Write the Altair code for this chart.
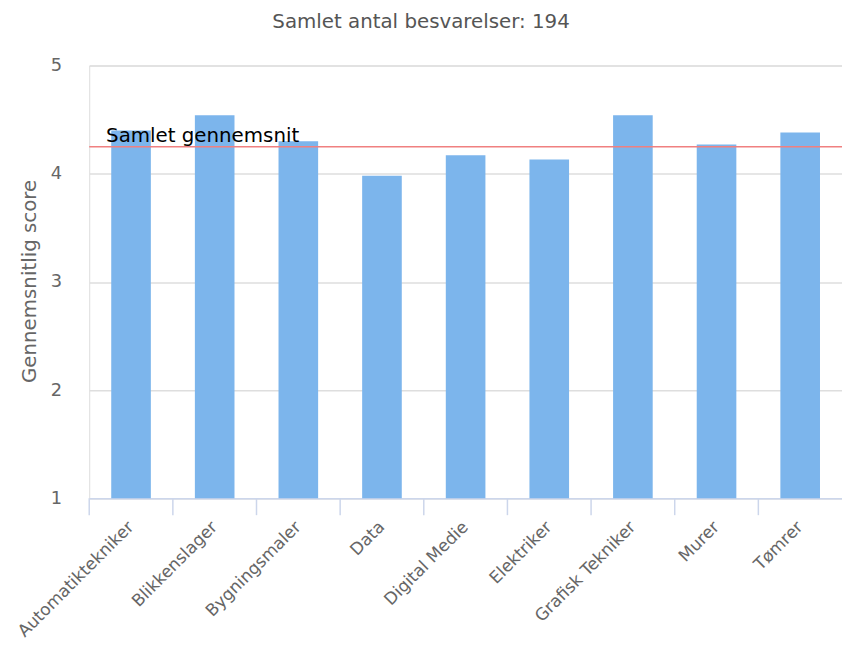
import altair as alt
import pandas as pd

categories = ["Automatiktekniker", "Blikkenslager", "Bygningsmaler", "Data",
              "Digital Medie", "Elektriker", "Grafisk Tekniker", "Murer", "Tømrer"]
scores = [4.40, 4.54, 4.30, 3.98, 4.17, 4.13, 4.54, 4.27, 4.38]
overall_avg = [4.25]
overall_label = ["Samlet gennemsnit"]
y_ticks = [1, 2, 3, 4, 5]
title_text = "Samlet antal besvarelser: 194"
y_title = "Gennemsnitlig score"

FONT = "DejaVu Sans"

df = pd.DataFrame({"cat": categories, "score": scores})
ref = pd.DataFrame({"v": overall_avg, "label": overall_label})

x_enc = alt.X(
    "cat:N",
    sort=categories,
    scale=alt.Scale(paddingInner=0, paddingOuter=0),
    axis=alt.Axis(
        title=None,
        labelAngle=-45,
        labelAlign="right",
        labelBaseline="middle",
        labelPadding=26,
        labelFontSize=17,
        labelColor="#666666",
        labelFont=FONT,
        ticks=False,
        domainColor="#ccd6eb",
        domainWidth=1.5,
        grid=False,
    ),
)

y_enc = alt.Y(
    "score:Q",
    scale=alt.Scale(domain=[1, 5], nice=False, zero=False),
    axis=alt.Axis(
        values=y_ticks,
        format="d",
        title=y_title,
        titleFont=FONT,
        titleFontSize=20,
        titleFontWeight="normal",
        titleColor="#666666",
        titleX=-60,
        titleY=217.5,
        titleAngle=-90,
        titleAlign="center",
        titleBaseline="middle",
        labelFont=FONT,
        labelFontSize=18,
        labelColor="#666666",
        labelPadding=28,
        ticks=False,
        tickSize=0,
        domain=False,
        grid=True,
        gridColor="#dedede",
        gridWidth=1.5,
    ),
)

bars = alt.Chart(df).mark_bar(color="#7cb5ec", width=40).encode(
    x=x_enc, y=y_enc, y2=alt.datum(1)
)

ticks = alt.Chart(df).mark_rule(color="#ccd6eb", strokeWidth=1.5).encode(
    x=alt.X("cat:N", sort=categories, bandPosition=0),
    y=alt.value(437),
    y2=alt.value(454),
)

ref_line = alt.Chart(ref).mark_rule(color="#f08080", strokeWidth=1.5).encode(
    y=alt.Y("v:Q")
)

ref_text = alt.Chart(ref).mark_text(
    align="left", baseline="alphabetic", dy=-5, fontSize=20, font=FONT, color="#000000"
).encode(
    x=alt.value(17),
    y=alt.Y("v:Q"),
    text="label:N",
)

chart = alt.layer(bars, ticks, ref_line, ref_text).properties(
    width=760,
    height=437,
    autosize="none",
    padding={"left": 82, "top": 55, "right": 0, "bottom": 140},
    title=alt.TitleParams(
        title_text,
        font=FONT,
        fontSize=20,
        fontWeight="normal",
        color="#555555",
        anchor="middle",
        frame="group",
        dx=-45,
        offset=25,
    ),
).configure_view(strokeWidth=0).configure(background="white")

chart.save("out.html", embed_options={"renderer": "svg", "actions": False})
